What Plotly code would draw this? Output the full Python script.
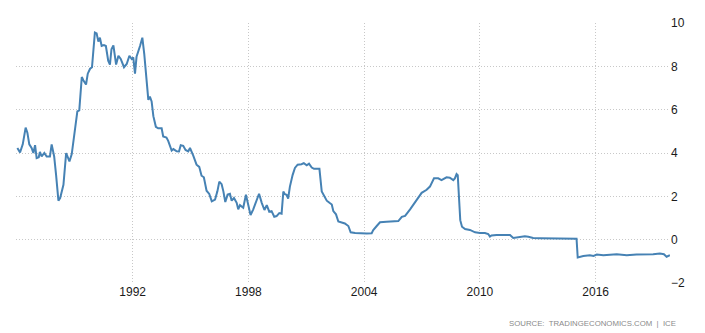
import pandas as pd
import plotly.graph_objects as go

# Decimal-year positions and interest-rate values (%)
years = [
    1986.02, 1986.16, 1986.30, 1986.45, 1986.54, 1986.64, 1986.76, 1986.85, 1986.94,
    1987.02, 1987.13, 1987.19, 1987.28, 1987.42, 1987.54, 1987.71, 1987.80, 1987.93,
    1988.03, 1988.15, 1988.24, 1988.41, 1988.55, 1988.72, 1988.84,
    1989.01, 1989.13, 1989.23, 1989.36, 1989.44, 1989.58, 1989.67, 1989.79, 1989.89, 1989.96,
    1990.04, 1990.13, 1990.22, 1990.30, 1990.39, 1990.51, 1990.61, 1990.73, 1990.82, 1990.90,
    1991.00, 1991.14, 1991.26, 1991.38, 1991.55, 1991.69, 1991.83, 1991.95,
    1992.03, 1992.12, 1992.20, 1992.38, 1992.50, 1992.60, 1992.72, 1992.81, 1992.89, 1992.98,
    1993.07, 1993.20, 1993.32, 1993.50, 1993.58, 1993.75, 1993.84,
    1994.02, 1994.11, 1994.28, 1994.40, 1994.49, 1994.62, 1994.74, 1994.88, 1994.97,
    1995.14, 1995.31, 1995.45, 1995.57, 1995.69, 1995.83, 1995.97,
    1996.10, 1996.27, 1996.39, 1996.49, 1996.61, 1996.70, 1996.80, 1996.92,
    1997.04, 1997.13, 1997.25, 1997.39, 1997.47, 1997.56, 1997.73, 1997.87, 1997.99,
    1998.11, 1998.25, 1998.42, 1998.55, 1998.69, 1998.83, 1998.95,
    1999.08, 1999.20, 1999.34, 1999.46, 1999.60, 1999.72, 1999.81, 1999.89, 1999.98,
    2000.06, 2000.15, 2000.29, 2000.41, 2000.55, 2000.75, 2000.87,
    2001.02, 2001.14, 2001.28, 2001.40, 2001.57, 2001.68, 2001.80, 2001.92,
    2002.06, 2002.20, 2002.32, 2002.40, 2002.54, 2002.66, 2002.83,
    2003.00, 2003.18, 2003.30, 2003.53, 2003.78,
    2004.13, 2004.39, 2004.47, 2004.65, 2004.82,
    2005.16, 2005.69, 2005.77, 2005.95,
    2006.12, 2006.38, 2006.55, 2006.81, 2006.98,
    2007.24, 2007.41, 2007.62, 2007.84,
    2008.01, 2008.19, 2008.27, 2008.44, 2008.62, 2008.70, 2008.79, 2008.85, 2008.92, 2008.98,
    2009.07, 2009.23, 2009.48, 2009.75,
    2010.00, 2010.26, 2010.43, 2010.52, 2010.60, 2010.86,
    2011.21, 2011.56, 2011.73, 2011.99,
    2012.33, 2012.51, 2012.76,
    2013.11, 2013.80, 2014.50, 2014.84, 2015.01,
    2015.07, 2015.36, 2015.70, 2015.89,
    2016.06, 2016.40, 2017.09, 2017.61,
    2018.12, 2018.64, 2018.98,
    2019.33, 2019.54, 2019.68, 2019.85,
]
rates = [
    4.23, 4.03, 4.40, 5.17, 4.94, 4.40, 4.23, 4.00, 4.36,
    3.76, 3.80, 4.05, 3.84, 4.00, 3.84, 3.84, 4.40, 3.84,
    2.98, 1.80, 1.92, 2.53, 4.00, 3.61, 3.95,
    5.24, 5.92, 5.97, 7.51, 7.36, 7.16, 7.66, 7.89, 7.96, 8.56,
    9.56, 9.52, 9.14, 9.32, 8.94, 8.98, 8.94, 8.26, 8.08, 8.79,
    8.97, 8.08, 8.49, 8.34, 7.96, 8.11, 8.49, 8.34,
    8.41, 7.66, 8.44, 8.94, 9.32, 8.56, 7.36, 6.45, 6.60, 6.38,
    5.70, 5.21, 5.14, 5.14, 4.76, 4.71, 4.56,
    4.11, 4.18, 4.08, 4.07, 4.36, 4.33, 4.14, 4.07, 4.23,
    3.88, 3.46, 3.36, 2.95, 2.88, 2.26, 2.11,
    1.77, 1.85, 2.23, 2.68, 2.56, 2.23, 1.74, 2.08,
    2.12, 1.80, 1.92, 1.70, 1.40, 1.59, 1.47, 2.07, 1.62,
    1.14, 1.40, 1.85, 2.12, 1.70, 1.37, 1.59,
    1.29, 1.32, 1.06, 1.09, 1.23, 1.20, 2.22, 2.10, 2.07,
    1.90, 2.45, 2.98, 3.31, 3.46, 3.48, 3.53,
    3.43, 3.51, 3.33, 3.27, 3.25, 3.27, 2.22, 2.00,
    1.80, 1.70, 1.62, 1.32, 1.17, 0.84, 0.79,
    0.75, 0.63, 0.34, 0.31, 0.29,
    0.29, 0.30, 0.44, 0.63, 0.80,
    0.83, 0.83, 0.86, 1.05,
    1.10, 1.40, 1.63, 1.93, 2.16,
    2.30, 2.45, 2.83, 2.83,
    2.75, 2.83, 2.88, 2.86, 2.75, 2.83, 3.03, 2.98, 1.60, 0.90,
    0.60, 0.49, 0.45, 0.34,
    0.31, 0.31, 0.26, 0.14, 0.19, 0.22,
    0.22, 0.22, 0.08, 0.11,
    0.16, 0.13, 0.08,
    0.07, 0.07, 0.07, 0.07, 0.04,
    -0.82, -0.75, -0.72, -0.75,
    -0.69, -0.72, -0.67, -0.72,
    -0.69, -0.69, -0.67,
    -0.64, -0.67, -0.79, -0.72,
]
tick_years = [1992, 1998, 2004, 2010, 2016]
tick_labels = [str(y) for y in tick_years]
y_ticks = [-2, 0, 2, 4, 6, 8, 10]


def dec_to_date(d):
    y = int(d)
    start = pd.Timestamp(year=y, month=1, day=1)
    end = pd.Timestamp(year=y + 1, month=1, day=1)
    return start + (end - start) * (d - y)


dates = [dec_to_date(d) for d in years]

fig = go.Figure()
fig.add_trace(go.Scatter(
    x=dates, y=rates, mode="lines",
    line=dict(color="#4682B4", width=2),
    hoverinfo="skip",
))

font_family = "Liberation Sans, Arial, sans-serif"
grid_dash = "1px,2px"

# the page body has an 8px default margin, so the figure is sized to fit inside it
fig.update_layout(
    width=697, height=325,
    margin=dict(l=8, r=35, t=10, b=50),
    paper_bgcolor="white", plot_bgcolor="white",
    showlegend=False,
    font=dict(family=font_family, size=12, color="#222"),
    xaxis=dict(
        type="date",
        range=[dec_to_date(1985.95), dec_to_date(2019.855)],
        tickvals=[pd.Timestamp(year=y, month=1, day=1) for y in tick_years],
        ticktext=tick_labels,
        showgrid=True, gridcolor="#c8c8c8", griddash=grid_dash, gridwidth=1,
        showline=False, zeroline=False, ticks="",
        tickfont=dict(size=12, color="#1a1a1a"),
    ),
    yaxis=dict(
        side="right",
        range=[-2, 10],
        tickvals=y_ticks,
        showgrid=True, gridcolor="#c8c8c8", griddash=grid_dash, gridwidth=1,
        showline=False, zeroline=False, ticks="",
        tickfont=dict(size=12, color="#1a1a1a"),
    ),
    annotations=[dict(
        text="SOURCE:  TRADINGECONOMICS.COM  |  ICE",
        xref="paper", yref="paper", x=1.012, y=-0.154,
        xanchor="right", yanchor="middle", showarrow=False,
        font=dict(family=font_family, size=7.8, color="#8a8a8a"),
    )],
)

fig.write_html("out.html")
